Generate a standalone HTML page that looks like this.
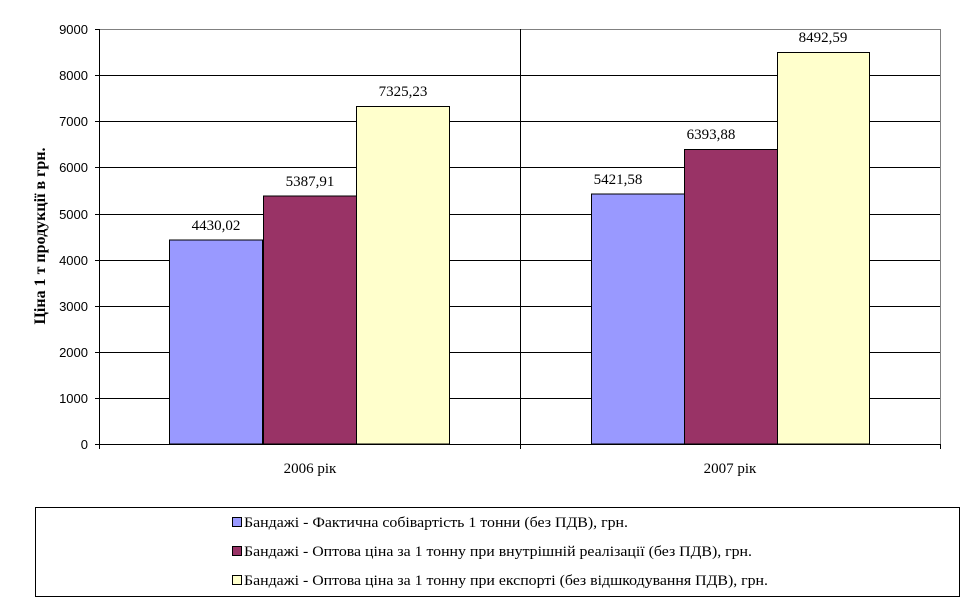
<!DOCTYPE html>
<html><head><meta charset="utf-8"><style>body{margin:0;background:#fff}svg{display:block}</style></head><body>
<svg width="970" height="604" xmlns="http://www.w3.org/2000/svg" font-family="Liberation Serif, serif" font-size="13">
<rect width="970" height="604" fill="#fff"/>
<g stroke="#000" stroke-width="1">
<line x1="99" y1="398.5" x2="940" y2="398.5"/>
<line x1="99" y1="352.5" x2="940" y2="352.5"/>
<line x1="99" y1="306.5" x2="940" y2="306.5"/>
<line x1="99" y1="260.5" x2="940" y2="260.5"/>
<line x1="99" y1="214.5" x2="940" y2="214.5"/>
<line x1="99" y1="167.5" x2="940" y2="167.5"/>
<line x1="99" y1="121.5" x2="940" y2="121.5"/>
<line x1="99" y1="75.5" x2="940" y2="75.5"/>
</g>
<line x1="99" y1="29.5" x2="940" y2="29.5" stroke="#808080"/>
<line x1="940.5" y1="29" x2="940.5" y2="444" stroke="#808080"/>
<line x1="520.5" y1="29" x2="520.5" y2="444" stroke="#000"/>
<g stroke="#000" stroke-width="1">
<rect x="169.5" y="240" width="93" height="204" fill="#9999ff"/>
<rect x="263.5" y="196" width="93" height="248" fill="#993366"/>
<rect x="356.5" y="106.5" width="93" height="337.5" fill="#ffffcc"/>
<rect x="591.5" y="194" width="93" height="250" fill="#9999ff"/>
<rect x="684.5" y="149.5" width="93" height="294.5" fill="#993366"/>
<rect x="777.5" y="52.5" width="92" height="391.5" fill="#ffffcc"/>
</g>
<g stroke="#000"><line x1="99.5" y1="29" x2="99.5" y2="449"/><line x1="95" y1="444.5" x2="940" y2="444.5"/>
<line x1="95" y1="398.5" x2="99" y2="398.5"/><line x1="95" y1="352.5" x2="99" y2="352.5"/><line x1="95" y1="306.5" x2="99" y2="306.5"/><line x1="95" y1="260.5" x2="99" y2="260.5"/><line x1="95" y1="214.5" x2="99" y2="214.5"/><line x1="95" y1="167.5" x2="99" y2="167.5"/><line x1="95" y1="121.5" x2="99" y2="121.5"/><line x1="95" y1="75.5" x2="99" y2="75.5"/><line x1="95" y1="29.5" x2="99" y2="29.5"/>
<line x1="520.5" y1="444" x2="520.5" y2="449"/><line x1="940.5" y1="444" x2="940.5" y2="449"/></g>
<g font-family="Liberation Sans, sans-serif" font-size="13" text-anchor="end">
<text x="88" y="449">0</text><text x="88" y="403">1000</text><text x="88" y="357">2000</text><text x="88" y="311">3000</text><text x="88" y="265">4000</text><text x="88" y="219">5000</text><text x="88" y="172">6000</text><text x="88" y="126">7000</text><text x="88" y="80">8000</text><text x="88" y="34">9000</text>
</g>
<g text-anchor="middle" font-size="15">
<text x="216" y="230">4430,02</text><text x="310" y="186">5387,91</text><text x="403" y="96">7325,23</text>
<text x="618" y="184">5421,58</text><text x="711" y="139">6393,88</text><text x="823" y="42">8492,59</text>
<text x="310" y="473">2006 рік</text><text x="730" y="473">2007 рік</text>
</g>
<text transform="translate(45,236) rotate(-90)" text-anchor="middle" font-weight="bold" font-size="16">Ціна 1 т продукції в грн.</text>
<rect x="35.5" y="507.5" width="924" height="89" fill="none" stroke="#000"/>
<g stroke="#000"><rect x="232.5" y="517.5" width="9" height="9" fill="#9999ff"/><rect x="232.5" y="546.5" width="9" height="9" fill="#993366"/><rect x="232.5" y="575.5" width="9" height="9" fill="#ffffcc"/></g>
<g font-size="15">
<text x="244" y="527" textLength="384" lengthAdjust="spacingAndGlyphs">Бандажі - Фактична собівартість 1 тонни (без ПДВ), грн.</text>
<text x="244" y="556" textLength="508" lengthAdjust="spacingAndGlyphs">Бандажі - Оптова ціна за 1 тонну  при внутрішній реалізації (без ПДВ), грн.</text>
<text x="244" y="585" textLength="524" lengthAdjust="spacingAndGlyphs">Бандажі - Оптова ціна за 1 тонну при експорті (без відшкодування ПДВ), грн.</text>
</g>
</svg>
</body></html>
